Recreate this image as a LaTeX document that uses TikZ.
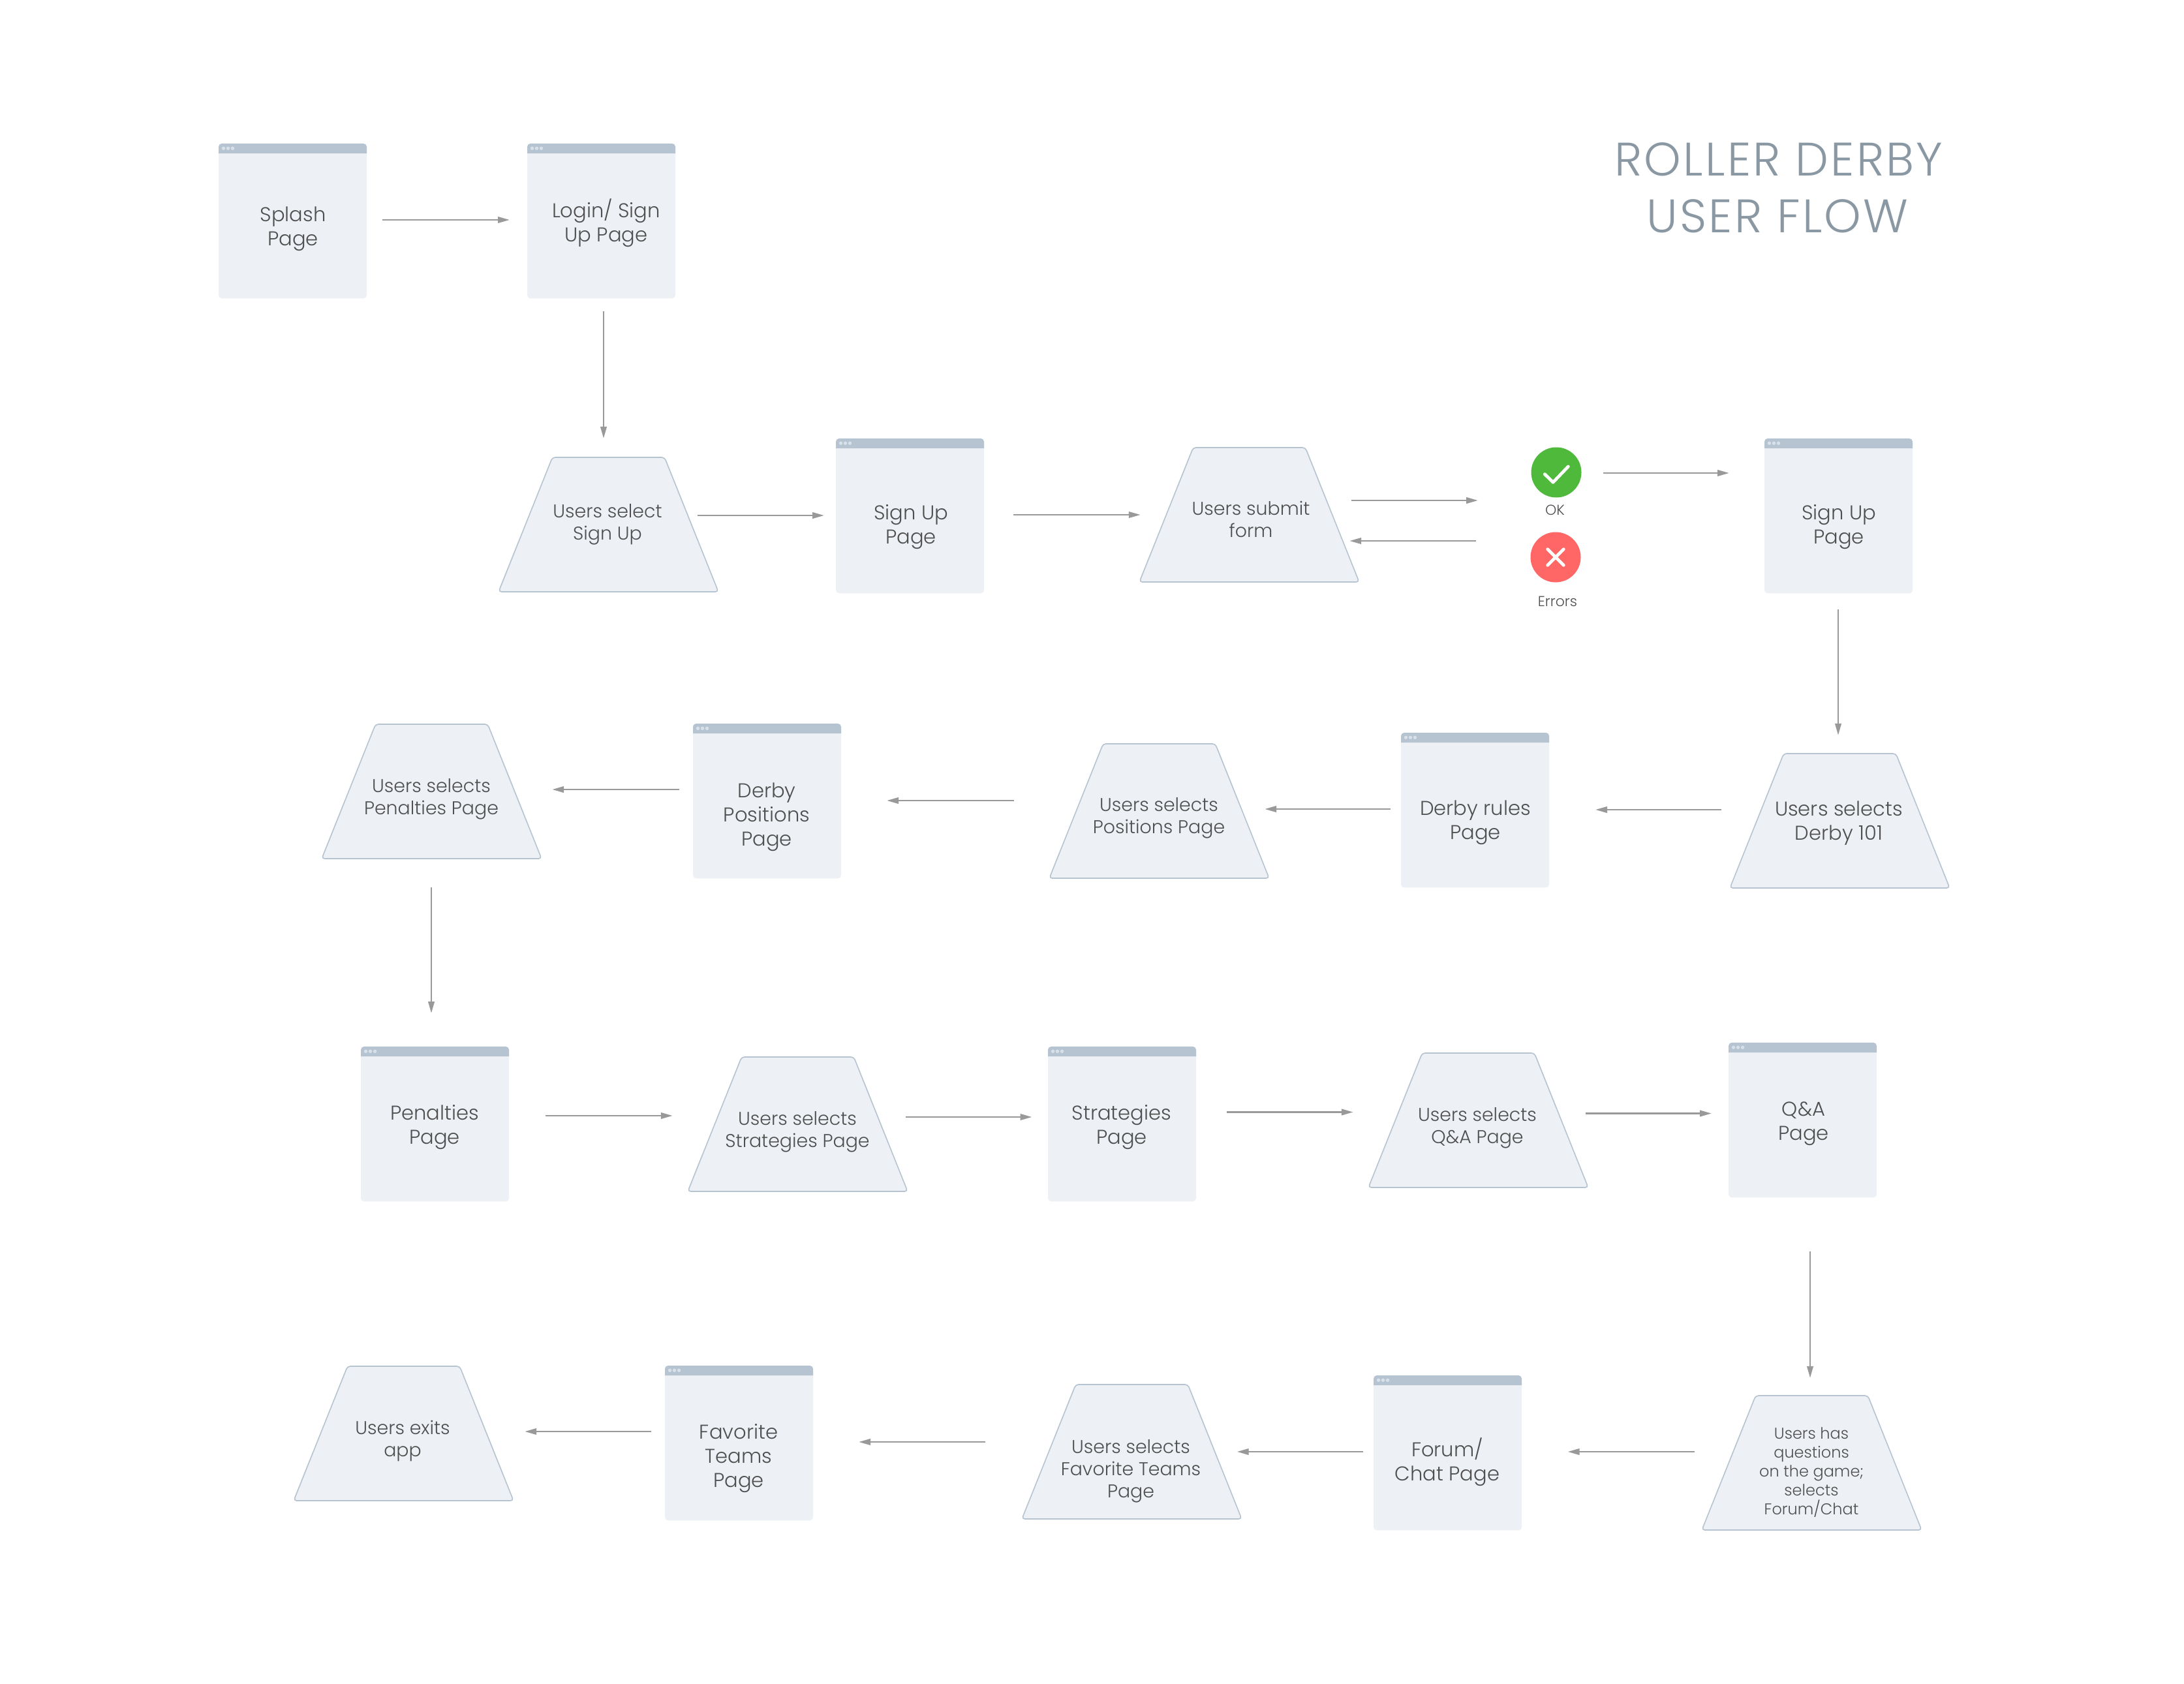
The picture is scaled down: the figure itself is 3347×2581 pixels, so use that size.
\documentclass[tikz,border=0pt]{standalone}
\usepackage{fontspec}
\setmainfont{Poppins Light}
\usetikzlibrary{arrows.meta,shapes.geometric}
\definecolor{boxfill}{HTML}{EDF0F5}
\definecolor{boxhead}{HTML}{B6C3D0}
\definecolor{boxdot}{HTML}{D8E1E9}
\definecolor{flowgray}{HTML}{999999}
\definecolor{inktext}{HTML}{4F4F4F}
\definecolor{titlegray}{HTML}{8A98A3}
\definecolor{okgreen}{HTML}{4FB93C}
\definecolor{errred}{HTML}{FF6666}
\tikzset{
  x=0.5pt,y=-0.5pt,
  screenbox/.style={rectangle,fill=boxfill,rounded corners=2.5pt,minimum width=113.5pt,minimum height=118.7pt,inner sep=0pt,outer sep=0pt,anchor=north west},
  trapbox/.style={trapezium,trapezium left angle=68,trapezium right angle=68,trapezium stretches=true,draw=boxhead,line width=0.8pt,fill=boxfill,rounded corners=2.2pt,minimum width=168.5pt,minimum height=103pt,inner sep=0pt,outer sep=0pt},
  pagelabel/.style={text=inktext,font=\fontsize{15.3}{18.5}\selectfont,align=center,inner sep=0pt},
  traplabel/.style={text=inktext,font=\fontsize{14.2}{17}\selectfont,align=center,inner sep=0pt},
  smalllabel/.style={text=inktext,font=\fontsize{12}{14.5}\selectfont,align=center,inner sep=0pt},
  tinylabel/.style={text=inktext,font=\fontsize{11}{13}\selectfont,inner sep=0pt},
  titlelabel/.style={text=titlegray,font=\fontsize{36}{44}\selectfont\addfontfeature{LetterSpace=4.5},inner sep=0pt},
  statusdot/.style={circle,minimum size=38.5pt,inner sep=0pt,outer sep=0pt},
  flow/.style={draw=flowgray,line width=1.3pt,-{Triangle[length=9pt,width=4.7pt]}},
  g/.style 2 args={shorten <=#1*0.5pt,shorten >=#2*0.5pt},
  mark stroke/.style={draw=white,line width=2.4pt,line cap=round,line join=round},
}
\newcommand{\screenat}[3]{%
  \node[screenbox] (#1) at (#2,#3) {};
  \fill[boxhead] ([yshift=-7.5pt]#1.north west) [rounded corners=2.5pt] -- (#1.north west) -- (#1.north east) [sharp corners] -- ([yshift=-7.5pt]#1.north east) -- cycle;
  \foreach \dx in {3.75,7.25,10.75}{\fill[boxdot] ([xshift=\dx pt,yshift=-3.65pt]#1.north west) circle (1.35pt);}
}
\newcommand{\trapat}[3]{%
  \node[trapbox] (#1) at ({#2+168.5},{#3-103}) {\phantom{x}};
}
\begin{document}
\begin{tikzpicture}
\useasboundingbox[fill=white] (0,0) rectangle (3347,2581);
% screens
\screenat{splash}{335}{220}
\screenat{login}{808}{220}
\screenat{signa}{1281}{672}
\screenat{signb}{2704}{672}
\screenat{rules}{2147}{1123}
\screenat{dpos}{1062}{1109}
\screenat{penal}{553}{1604}
\screenat{strat}{1606}{1604}
\screenat{qa}{2649}{1598}
\screenat{forum}{2105}{2108}
\screenat{favs}{1019}{2093}
% trapezoids
\trapat{tselect}{764}{907}
\trapat{tsubmit}{1746}{892}
\trapat{tderby}{2651}{1361}
\trapat{tpos}{1608}{1346}
\trapat{tpen}{493}{1316}
\trapat{tstrat}{1054}{1826}
\trapat{tqa}{2097}{1820}
\trapat{tforum}{2608}{2345}
\trapat{tfav}{1566}{2328}
\trapat{texit}{450}{2300}
% status
\node[statusdot,fill=okgreen] (ok) at (2385,724) {};
\node[statusdot,fill=errred] (err) at (2384,854) {};
\draw[mark stroke] ([shift={(-17.7,2.7)}]ok.center) -- ([shift={(-5,15.3)}]ok.center) -- ([shift={(18.3,-9)}]ok.center);
\draw[mark stroke] ([shift={(-12.3,-12.3)}]err.center) -- ([shift={(12.3,12.3)}]err.center);
\draw[mark stroke] ([shift={(-12.3,12.3)}]err.center) -- ([shift={(12.3,-12.3)}]err.center);
% labels
\node[pagelabel] (l1) at (449,351) {Splash\\Page};
\node[pagelabel] (l2) at (929,342) {Login/ Sign\\Up Page};
\node[traplabel] (l3) at (931,804) {Users select\\Sign Up};
\node[pagelabel] (l4) at (1396,808) {Sign Up\\Page};
\node[traplabel] (l5) at (1917,796) {Users submit\\form};
\node[tinylabel] (l6) at (2383,782) {OK};
\node[tinylabel] (l7) at (2387,922) {Errors};
\node[pagelabel] (l8) at (2818,808) {Sign Up\\Page};
\node[pagelabel] (l9) at (2818,1262) {Users selects\\Derby 101};
\node[pagelabel] (l10) at (2261,1261) {Derby rules\\Page};
\node[traplabel] (l11) at (1776,1254) {Users selects\\Positions Page};
\node[pagelabel] (l12) at (1175,1252) {Derby\\Positions\\Page};
\node[traplabel] (l13) at (661,1225) {Users selects\\Penalties Page};
\node[pagelabel] (l14) at (666,1728) {Penalties\\Page};
\node[traplabel] (l15) at (1222,1735) {Users selects\\Strategies Page};
\node[pagelabel] (l16) at (1719,1728) {Strategies\\Page};
\node[traplabel] (l17) at (2264,1729) {Users selects\\Q\&A Page};
\node[pagelabel] (l18) at (2764,1722) {Q\&A\\Page};
\node[smalllabel] (l19) at (2776,2257) {Users has\\questions\\on the game;\\selects\\Forum/Chat};
\node[pagelabel] (l20) at (2218,2241) {Forum/\\Chat Page};
\node[traplabel] (l21) at (1733,2255) {Users selects\\Favorite Teams\\Page};
\node[pagelabel] (l22) at (1132,2235) {Favorite\\Teams\\Page};
\node[traplabel] (l23) at (617,2208) {Users exits\\app};
\node[titlelabel] (t1) at (2726,244) {ROLLER DERBY};
\node[titlelabel] (t2) at (2724,331) {USER FLOW};
% connectors
\draw[flow,g={24}{27}] (splash.east |- 0,337) -- (login.west |- 0,337);
\draw[flow,g={20}{29}] (login.south -| 925,0) -- (tselect.north -| 925,0);
\draw[flow,g={9.5}{18}] (tselect.east |- 0,790) -- (signa.west |- 0,790);
\draw[flow,g={45}{39.5}] (signa.east |- 0,789) -- (tsubmit.west |- 0,789);
\draw[flow,g={29.5}{81.5}] (tsubmit.east |- 0,767) -- (ok.west |- 0,767);
\draw[flow,g={83.5}{26.5}] (err.west |- 0,829) -- (tsubmit.east |- 0,829);
\draw[flow,g={33.5}{54}] (ok.east |- 0,725) -- (signb.west |- 0,725);
\draw[flow,g={25}{28}] (signb.south -| 2817,0) -- (tderby.north -| 2817,0);
\draw[flow,g={54.5}{71}] (tderby.west |- 0,1241) -- (rules.east |- 0,1241);
\draw[flow,g={16}{34.5}] (rules.west |- 0,1240) -- (tpos.east |- 0,1240);
\draw[flow,g={95.5}{70}] (tpos.west |- 0,1227) -- (dpos.east |- 0,1227);
\draw[flow,g={21}{57.5}] (dpos.west |- 0,1210) -- (tpen.east |- 0,1210);
\draw[flow,g={44}{51}] (tpen.south -| 661,0) -- (penal.north -| 661,0);
\draw[flow,g={56}{64.5}] (penal.east |- 0,1710) -- (tstrat.west |- 0,1710);
\draw[flow,g={38}{24.5}] (tstrat.east |- 0,1712) -- (strat.west |- 0,1712);
\draw[flow,g={47}{64.5}] (strat.east |- 0,1704.5) -- (tqa.west |- 0,1704.5);
\draw[flow,g={37.5}{26}] (tqa.east |- 0,1706.5) -- (qa.west |- 0,1706.5);
\draw[flow,g={83}{27}] (qa.south -| 2774,0) -- (tforum.north -| 2774,0);
\draw[flow,g={52.5}{70.5}] (tforum.west |- 0,2225) -- (forum.east |- 0,2225);
\draw[flow,g={16}{34}] (forum.west |- 0,2225) -- (tfav.east |- 0,2225);
\draw[flow,g={97.5}{70}] (tfav.west |- 0,2210) -- (favs.east |- 0,2210);
\draw[flow,g={21}{58.5}] (favs.west |- 0,2194) -- (texit.east |- 0,2194);
\end{tikzpicture}
\end{document}
